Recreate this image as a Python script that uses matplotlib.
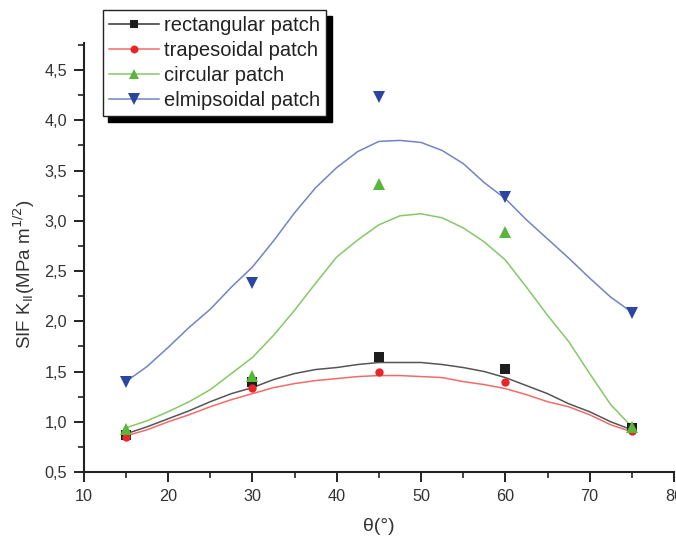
"""SIF K_II versus crack angle for four patch shapes"""
import matplotlib.pyplot as plt
from matplotlib.lines import Line2D
from matplotlib.ticker import FuncFormatter, MultipleLocator

plt.rcParams['font.family'] = ['Liberation Sans', 'DejaVu Sans']

# measured points
theta = [15, 30, 45, 60, 75]
rect_pts = [0.87, 1.40, 1.64, 1.53, 0.94]
trap_pts = [0.85, 1.34, 1.50, 1.40, 0.91]
circ_pts = [0.93, 1.46, 3.37, 2.89, 0.95]
ellip_pts = [1.40, 2.38, 4.23, 3.24, 2.08]

# fitted curves, every 2.5 degrees
theta_fit = [15, 17.5, 20, 22.5, 25, 27.5, 30, 32.5, 35, 37.5, 40, 42.5, 45,
             47.5, 50, 52.5, 55, 57.5, 60, 62.5, 65, 67.5, 70, 72.5, 75]
rect_fit = [0.88, 0.95, 1.03, 1.11, 1.20, 1.28, 1.34, 1.42, 1.48, 1.52, 1.54, 1.57, 1.59,
            1.59, 1.59, 1.57, 1.54, 1.50, 1.44, 1.36, 1.28, 1.18, 1.10, 1.00, 0.92]
trap_fit = [0.86, 0.92, 1.00, 1.07, 1.15, 1.22, 1.28, 1.34, 1.38, 1.41, 1.43, 1.45, 1.46,
            1.46, 1.45, 1.44, 1.40, 1.37, 1.33, 1.27, 1.20, 1.15, 1.07, 0.97, 0.90]
circ_fit = [0.94, 1.01, 1.10, 1.20, 1.32, 1.48, 1.64, 1.86, 2.11, 2.38, 2.64, 2.81, 2.96,
            3.05, 3.07, 3.03, 2.93, 2.79, 2.61, 2.34, 2.06, 1.80, 1.48, 1.17, 0.95]
ellip_fit = [1.40, 1.55, 1.74, 1.94, 2.12, 2.34, 2.54, 2.80, 3.08, 3.33, 3.53, 3.69, 3.79,
             3.80, 3.78, 3.70, 3.57, 3.38, 3.22, 3.01, 2.82, 2.63, 2.43, 2.24, 2.09]

labels = ['rectangular patch', 'trapesoidal patch', 'circular patch', 'elmipsoidal patch']
line_cols = ['#555555', '#f26b6b', '#86c866', '#7383c6']
mark_cols = ['#1e1e1e', '#e8262a', '#5bb53a', '#2c46a0']
markers = ['s', 'o', '^', 'v']
msizes = [6.5, 6, 8, 8.5]

fig = plt.figure(figsize=(6.76, 5.37), dpi=100)
ax = fig.add_axes([0.124, 0.121, 0.873, 0.799])

fits = [rect_fit, trap_fit, circ_fit, ellip_fit]
pts = [rect_pts, trap_pts, circ_pts, ellip_pts]
handles = []
for i in range(4):
    ax.plot(theta_fit, fits[i], color=line_cols[i], lw=1.1, zorder=2)
    ax.plot(theta, pts[i], ls='none', marker=markers[i], ms=msizes[i],
            color=mark_cols[i], markeredgewidth=0, zorder=3)
    handles.append(Line2D([], [], color=line_cols[i] if i else '#333333', lw=1.1,
                          marker=markers[i], ms=msizes[i] * 0.95,
                          markerfacecolor=mark_cols[i], markeredgewidth=0))

ax.set_xlim(10, 80)
ax.set_ylim(0.5, 4.77)
ax.xaxis.set_major_locator(MultipleLocator(10))
ax.xaxis.set_minor_locator(MultipleLocator(5))
ax.yaxis.set_major_locator(MultipleLocator(0.5))
ax.yaxis.set_minor_locator(MultipleLocator(0.25))
ax.yaxis.set_major_formatter(FuncFormatter(lambda v, p: f"{v:.1f}".replace('.', ',')))

for s in ['top', 'right']:
    ax.spines[s].set_visible(False)
for s in ['left', 'bottom']:
    ax.spines[s].set_linewidth(1.5)
    ax.spines[s].set_color('#222222')
ax.tick_params(which='major', direction='out', length=7, width=1.4, pad=5,
               labelsize=11.7, labelcolor='#333333', color='#222222')
ax.tick_params(which='minor', direction='out', length=4, width=1.2, color='#222222')

ax.set_xlabel('θ(°)', fontsize=14, color='#333333', labelpad=10)
ax.set_ylabel(r'SIF K$_{\mathrm{II}}$(MPa m$^{1/2}$)', fontsize=13.5, color='#333333')
ax.yaxis.set_label_coords(-0.08, 0.46)

leg = fig.legend(handles, labels, loc='upper left', bbox_to_anchor=(0.152, 0.981),
                 borderaxespad=0, fontsize=14.5, handlelength=2.5, handletextpad=0.25,
                 labelspacing=0.3, borderpad=0.3, fancybox=False, framealpha=1,
                 edgecolor='#222222',
                 shadow={'color': 'black', 'alpha': 1, 'ox': 4, 'oy': -4})
leg.get_frame().set_linewidth(1.0)
for t in leg.get_texts():
    t.set_color('#222222')

fig.savefig('out.png', dpi=100)
